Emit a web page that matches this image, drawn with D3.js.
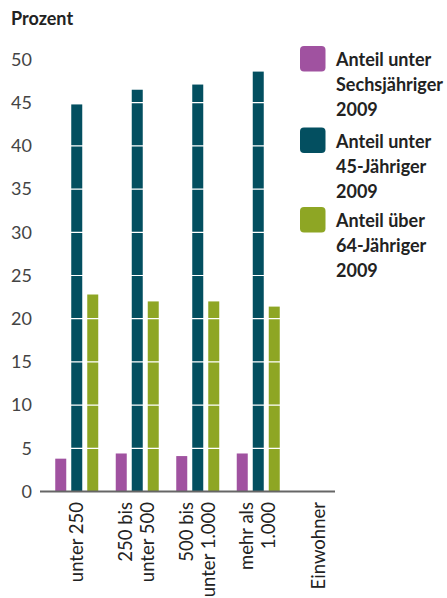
<!DOCTYPE html>
<html>
<head>
<meta charset="utf-8">
<script src="https://cdn.jsdelivr.net/npm/d3@7"></script>
<style>
  html, body { margin: 0; padding: 0; background: #fff; }
  svg { display: block; font-family: Lato, "Open Sans", sans-serif; }
</style>
</head>
<body>
<svg id="chart" width="447" height="598"></svg>
<script>
// Kategorien (Gemeindegröße nach Einwohnern)
var categories = ["unter 250", "250 bis|unter 500", "500 bis|unter 1.000", "mehr als|1.000", "Einwohner"];
var seriesNames = ["Anteil unter|Sechsjähriger|2009", "Anteil unter|45-Jähriger|2009", "Anteil über|64-Jähriger|2009"];
var seriesColors = ["#a052a0", "#034f60", "#8ea624"];

// Werte in Prozent
var unterSechs = [3.8, 4.4, 4.1, 4.4, null];
var unter45 = [44.8, 46.5, 47.1, 48.6, null];
var ueber64 = [22.8, 22.0, 22.0, 21.4, null];

var yTicks = [0, 5, 10, 15, 20, 25, 30, 35, 40, 45, 50];

var svg = d3.select("#chart");

var x0 = d3.scaleBand()
  .domain(categories)
  .range([46.25, 348.75])
  .padding(0);

var x1 = d3.scaleBand()
  .domain([0, 1, 2])
  .range([9, 52])
  .paddingInner(0.3125)
  .paddingOuter(0);

var y = d3.scaleLinear()
  .domain([0, 50])
  .range([491.5, 59.5]);

// Titel
svg.append("text")
  .attr("x", 11)
  .attr("y", 25)
  .attr("fill", "#222")
  .attr("font-weight", "bold")
  .attr("font-size", 18)
  .text("Prozent");

// Y-Achse
svg.append("g")
  .attr("transform", "translate(32,0)")
  .call(d3.axisLeft(y).tickValues(yTicks).tickSize(0).tickPadding(0))
  .call(function(g){ g.select(".domain").remove(); })
  .selectAll("text")
  .attr("font-family", "Lato, 'Open Sans', sans-serif")
  .attr("font-size", 18)
  .attr("fill", "#444");

// Balken
var rows = categories.map(function(c, i){
  return { cat: c, values: [unterSechs[i], unter45[i], ueber64[i]] };
});

var group = svg.append("g").selectAll("g")
  .data(rows)
  .enter().append("g")
  .attr("transform", function(d){ return "translate(" + x0(d.cat) + ",0)"; });

group.selectAll("rect")
  .data(function(d){
    return d.values.map(function(v, j){ return { s: j, v: v }; })
      .filter(function(e){ return e.v != null; });
  })
  .enter().append("rect")
  .attr("x", function(d){ return x1(d.s); })
  .attr("width", x1.bandwidth())
  .attr("y", function(d){ return y(d.v); })
  .attr("height", function(d){ return y(0) - y(d.v); })
  .attr("fill", function(d){ return seriesColors[d.s]; });

// weiße Gitterlinien über den Balken
svg.append("g").selectAll("line")
  .data(yTicks.filter(function(t){ return t > 0; }))
  .enter().append("line")
  .attr("x1", 40)
  .attr("x2", 335)
  .attr("y1", function(d){ return y(d); })
  .attr("y2", function(d){ return y(d); })
  .attr("stroke", "#fff")
  .attr("stroke-width", 1.2);

// Grundlinie
svg.append("line")
  .attr("x1", 40)
  .attr("x2", 335)
  .attr("y1", y(0))
  .attr("y2", y(0))
  .attr("stroke", "#666")
  .attr("stroke-width", 2);

// X-Beschriftung, gedreht
var xLabels = svg.append("g").selectAll("text")
  .data(categories)
  .enter().append("text")
  .attr("transform", function(d){
    return "translate(" + (x0(d) + x0.bandwidth() / 2) + ",502) rotate(-90)";
  })
  .attr("text-anchor", "end")
  .attr("font-size", 18.5)
  .attr("fill", "#222");

xLabels.each(function(d){
  var lines = d.split("|");
  var el = d3.select(this);
  lines.forEach(function(l, i){
    el.append("tspan")
      .attr("x", 0)
      .attr("y", (i - (lines.length - 1) / 2) * 22)
      .attr("dy", "0.35em")
      .text(l);
  });
});

// Legende
var legend = svg.append("g").selectAll("g")
  .data(seriesNames)
  .enter().append("g")
  .attr("transform", function(d, i){ return "translate(300," + [46, 127.5, 207][i] + ")"; });

legend.append("rect")
  .attr("width", 25.5)
  .attr("height", 25.5)
  .attr("rx", 4)
  .attr("fill", function(d, i){ return seriesColors[i]; });

legend.append("text")
  .attr("fill", "#222")
  .attr("font-weight", "bold")
  .attr("font-size", 18)
  .each(function(d){
    var el = d3.select(this);
    d.split("|").forEach(function(l, i){
      el.append("tspan")
        .attr("x", 36)
        .attr("y", 14 + i * 25)
        .attr("dy", "0.35em")
        .text(l);
    });
  });
</script>
</body>
</html>
